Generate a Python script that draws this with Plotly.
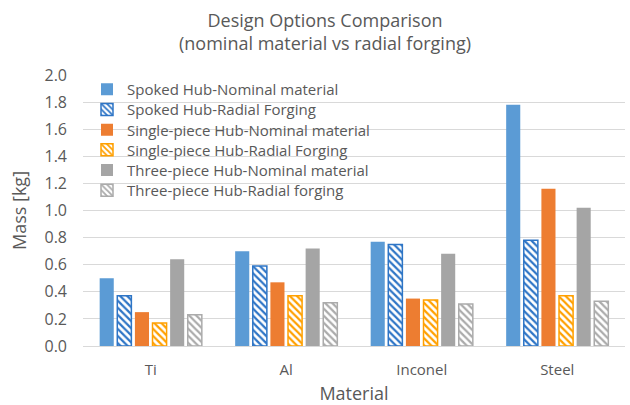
import plotly.graph_objects as go

# Mass of each hub design, by material
materials = ["Ti", "Al", "Inconel", "Steel"]
series_names = [
    "Spoked Hub-Nominal material",
    "Spoked Hub-Radial Forging",
    "Single-piece Hub-Nominal material",
    "Single-piece Hub-Radial Forging",
    "Three-piece Hub-Nominal material",
    "Three-piece Hub-Radial forging",
]
spoked_nominal = [0.50, 0.70, 0.77, 1.78]
spoked_radial = [0.37, 0.59, 0.75, 0.78]
single_nominal = [0.25, 0.47, 0.35, 1.16]
single_radial = [0.17, 0.37, 0.34, 0.37]
three_nominal = [0.64, 0.72, 0.68, 1.02]
three_radial = [0.23, 0.32, 0.31, 0.33]

series_values = [spoked_nominal, spoked_radial, single_nominal,
                 single_radial, three_nominal, three_radial]
colors = ["#5B9BD5", "#2E75C6", "#ED7D31", "#FFA000", "#A5A5A5", "#ABABAB"]
hatched = [False, True, False, True, False, True]

y_ticks = [0.0, 0.2, 0.4, 0.6, 0.8, 1.0, 1.2, 1.4, 1.6, 1.8, 2.0]
y_ticklabels = [f"{v:.1f}" for v in y_ticks]

title_lines = ["Design Options Comparison", "(nominal material vs radial forging)"]

FONT = "Open Sans, Lato, sans-serif"
TEXT = "#595959"

# Plot area in pixels, used to place the stacked legend rows
PLOT_TOP, PLOT_BOTTOM, PLOT_LEFT, PLOT_RIGHT = 75, 346, 83, 625
ROW_TOP, ROW_STEP = 89.5, 20.2

fig = go.Figure()
legend_ids = ["legend"] + [f"legend{i}" for i in range(2, len(series_names) + 1)]
for name, vals, col, hatch, lid in zip(series_names, series_values, colors,
                                       hatched, legend_ids):
    if hatch:
        marker = dict(
            color="white",
            line=dict(color=col, width=1.5),
            pattern=dict(shape="\\", fgcolor=col, bgcolor="white",
                         size=5, solidity=0.45, fillmode="replace"),
        )
    else:
        marker = dict(color=col, line=dict(width=0))
    fig.add_trace(go.Bar(x=materials, y=vals, name=name, marker=marker,
                         legend=lid))

# Two-line chart title above the plot area
fig.add_annotation(
    text="<br>".join(title_lines),
    xref="paper", yref="paper",
    x=(325 - PLOT_LEFT) / (PLOT_RIGHT - PLOT_LEFT), y=1,
    xanchor="center", yanchor="bottom",
    yshift=18, showarrow=False, align="center",
    font=dict(family=FONT, size=18, color=TEXT),
)

# One legend per series so the rows sit at a fixed spacing
legend_layout = {}
for i, lid in enumerate(legend_ids):
    yc = ROW_TOP + i * ROW_STEP
    legend_layout[lid] = dict(
        x=(87 - PLOT_LEFT) / (PLOT_RIGHT - PLOT_LEFT),
        y=(PLOT_BOTTOM - yc) / (PLOT_BOTTOM - PLOT_TOP),
        xanchor="left", yanchor="middle",
        bgcolor="rgba(0,0,0,0)", font=dict(size=15, color=TEXT),
        itemwidth=30, borderwidth=0,
    )

fig.update_layout(
    width=630, height=405,
    margin=dict(l=PLOT_LEFT, r=630 - PLOT_RIGHT, t=PLOT_TOP, b=405 - PLOT_BOTTOM),
    paper_bgcolor="white", plot_bgcolor="white",
    barmode="group", bargap=0.22, bargroupgap=0.2,
    font=dict(family=FONT, color=TEXT, size=15),
    showlegend=True,
    xaxis=dict(
        title=dict(text="Material", font=dict(size=18, color=TEXT), standoff=13),
        showline=True, linecolor="#D9D9D9", linewidth=1,
        ticks="", ticklabelstandoff=10, tickfont=dict(size=15, color=TEXT),
        automargin=False,
    ),
    yaxis=dict(
        title=dict(text="Mass [kg]", font=dict(size=18, color=TEXT), standoff=13),
        range=[0, 2.0], tickvals=y_ticks, ticktext=y_ticklabels,
        showgrid=True, gridcolor="#D9D9D9", gridwidth=1,
        zeroline=False, ticks="", ticklabelstandoff=15,
        tickfont=dict(size=16, color=TEXT), automargin=False,
    ),
    **legend_layout,
)

fig.write_html("out.html")
